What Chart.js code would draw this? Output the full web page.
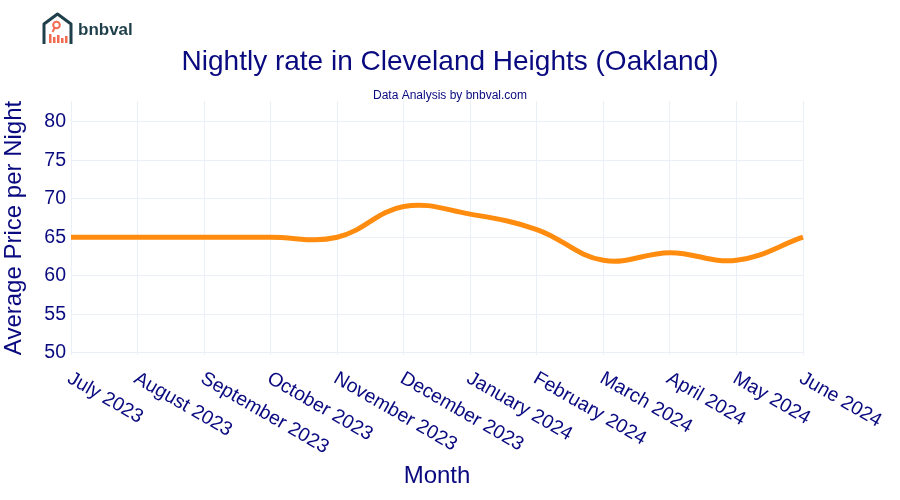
<!DOCTYPE html>
<html>
<head>
<meta charset="utf-8">
<script src="https://cdn.jsdelivr.net/npm/chart.js@4.4.1/dist/chart.umd.min.js"></script>
<style>
    html, body { margin: 0; padding: 0; background: #fff; }
    #wrap { position: relative; width: 900px; height: 500px; }
    #logo { position: absolute; left: 42px; top: 12px; display: flex; align-items: center; }
    #logo span { font-family: 'Liberation Sans', Arial, sans-serif; font-weight: bold; font-size: 17px; color: #1f3f4a; margin-left: 5px; margin-top: 2px; }
</style>
</head>
<body>
<div id="wrap">
    <div id="logo">
        <svg width="31" height="34" viewBox="0 0 31 34">
            <path d="M2 32 V12 L15.5 2 L29 12 V32" fill="none" stroke="#1f3f4a" stroke-width="3" stroke-linejoin="round"/>
            <circle cx="14.5" cy="13" r="3.3" fill="none" stroke="#f26b50" stroke-width="2"/>
            <line x1="12.5" y1="16" x2="10.5" y2="20" stroke="#f26b50" stroke-width="2"/>
            <rect x="7" y="22" width="2.5" height="9" fill="#f26b50"/>
            <rect x="11" y="25" width="2.5" height="6" fill="#f26b50"/>
            <rect x="15" y="23" width="2.5" height="8" fill="#f26b50"/>
            <rect x="19" y="26" width="2.5" height="5" fill="#f26b50"/>
            <rect x="23" y="24" width="2.5" height="7" fill="#f26b50"/>
        </svg>
        <span>bnbval</span>
    </div>
    <canvas id="rateChart" width="900" height="500"></canvas>
</div>
<script>
// ====== DATA ======
const months = [
    'July 2023', 'August 2023', 'September 2023', 'October 2023',
    'November 2023', 'December 2023', 'January 2024', 'February 2024',
    'March 2024', 'April 2024', 'May 2024', 'June 2024',
]
const avgPrice = [65, 65, 65, 65, 65, 69, 68, 66, 62, 63, 62, 65]
const yTicks = [50, 55, 60, 65, 70, 75, 80]

const navy = '#0a0a80'
const gridColor = '#ebf0f8'
const font = "'Liberation Sans', Arial, sans-serif"

// title + subtitle centered on the full page width
const headerText = {
    id: 'headerText',
    afterDraw(chart) {
        const { ctx, width } = chart
        ctx.save()
        ctx.fillStyle = navy
        ctx.textAlign = 'center'
        ctx.textBaseline = 'middle'
        ctx.font = '28px ' + font
        ctx.fillText('Nightly rate in Cleveland Heights (Oakland)', width / 2, 62)
        ctx.font = '12px ' + font
        ctx.fillText('Data Analysis by bnbval.com', width / 2, 96)
        ctx.restore()
    },
}

// rotated month labels, plotly style (text starts at tick, going down-right)
const monthLabels = {
    id: 'monthLabels',
    afterDraw(chart) {
        const { ctx, scales } = chart
        const x = scales.x
        const top = chart.chartArea.bottom
        ctx.save()
        ctx.fillStyle = navy
        ctx.font = '19.5px ' + font
        ctx.textAlign = 'left'
        ctx.textBaseline = 'middle'
        months.forEach((m, i) => {
            ctx.save()
            ctx.translate(x.getPixelForValue(i) - 2, top + 22)
            ctx.rotate(Math.PI / 6)
            ctx.fillText(m, 0, 0)
            ctx.restore()
        })
        ctx.restore()
    },
}

const ctx = document.getElementById('rateChart').getContext('2d')
const rateChart = new Chart(ctx, {
    type: 'line',
    data: {
        labels: months,
        datasets: [
            {
                label: 'Average Price per Night',
                data: avgPrice,
                borderColor: '#ff8c0f',
                borderWidth: 5,
                pointRadius: 0,
                tension: 0.4,
                fill: false,
            },
        ],
    },
    options: {
        responsive: false,
        animation: false,
        layout: { padding: { left: 0, right: 97, top: 101, bottom: 0 } },
        scales: {
            x: {
                offset: false,
                ticks: { display: false },
                grid: { color: gridColor, drawTicks: false },
                border: { display: false },
                title: {
                    display: true,
                    text: 'Month',
                    color: navy,
                    font: { family: font, size: 24 },
                    padding: { top: 0, bottom: 9 },
                },
                afterFit: (scale) => { scale.height = 145 },
            },
            y: {
                min: 49.7,
                max: 82.7,
                afterBuildTicks: (scale) => {
                    scale.ticks = yTicks.map((v) => ({ value: v }))
                },
                ticks: {
                    color: navy,
                    font: { family: font, size: 19.5 },
                    padding: 5,
                },
                grid: { color: gridColor, drawTicks: false },
                border: { display: false },
                title: {
                    display: true,
                    text: 'Average Price per Night',
                    color: navy,
                    font: { family: font, size: 24 },
                    padding: { top: 0, bottom: 4 },
                },
                afterFit: (scale) => { scale.width = 71 },
            },
        },
        plugins: {
            legend: { display: false },
            tooltip: { enabled: false },
        },
    },
    plugins: [headerText, monthLabels],
})
</script>
</body>
</html>
